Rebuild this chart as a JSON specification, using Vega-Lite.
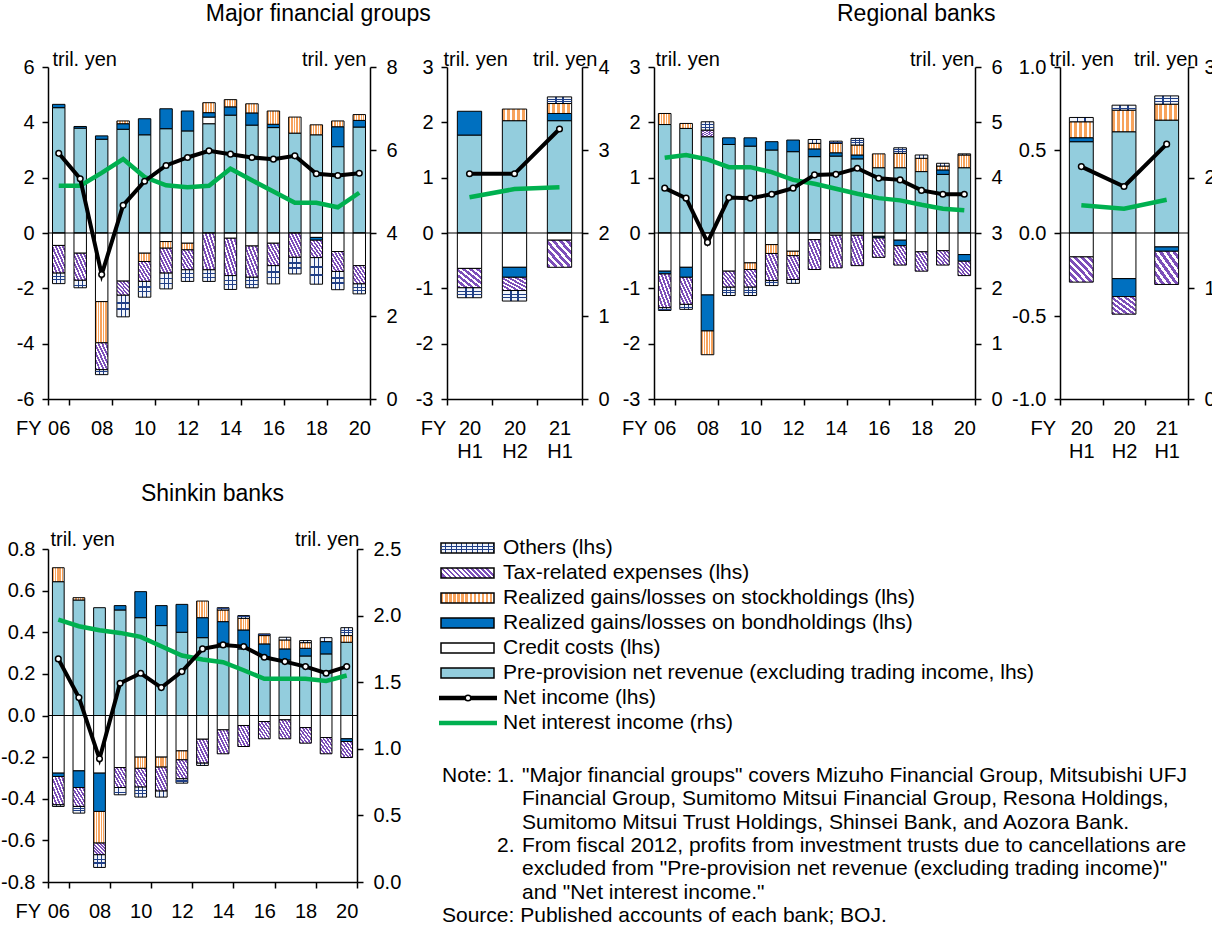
{
"padding": {"left": 0, "top": 3, "right": 5, "bottom": 5},
"params": [
 {"name": "gS", "value": {"gradient":"linear","x1":0,"y1":0,"x2":1,"y2":0,"stops":[
  {"offset":0,"color":"#f7a35c"},{"offset":0.12,"color":"#f7a35c"},{"offset":0.12,"color":"#fff"},{"offset":0.2,"color":"#fff"},
  {"offset":0.2,"color":"#f7a35c"},{"offset":0.32,"color":"#f7a35c"},{"offset":0.32,"color":"#fff"},{"offset":0.4,"color":"#fff"},
  {"offset":0.4,"color":"#f7a35c"},{"offset":0.52,"color":"#f7a35c"},{"offset":0.52,"color":"#fff"},{"offset":0.6,"color":"#fff"},
  {"offset":0.6,"color":"#f7a35c"},{"offset":0.72,"color":"#f7a35c"},{"offset":0.72,"color":"#fff"},{"offset":0.8,"color":"#fff"},
  {"offset":0.8,"color":"#f7a35c"},{"offset":0.92,"color":"#f7a35c"},{"offset":0.92,"color":"#fff"},{"offset":1,"color":"#fff"}]}},
 {"name": "gT", "value": {"gradient":"linear","x1":0,"y1":1,"x2":1,"y2":0,"stops":[
  {"offset":0,"color":"#7d4fb9"},{"offset":0.079,"color":"#7d4fb9"},{"offset":0.079,"color":"#fff"},{"offset":0.143,"color":"#fff"},
  {"offset":0.143,"color":"#7d4fb9"},{"offset":0.222,"color":"#7d4fb9"},{"offset":0.222,"color":"#fff"},{"offset":0.286,"color":"#fff"},
  {"offset":0.286,"color":"#7d4fb9"},{"offset":0.365,"color":"#7d4fb9"},{"offset":0.365,"color":"#fff"},{"offset":0.429,"color":"#fff"},
  {"offset":0.429,"color":"#7d4fb9"},{"offset":0.508,"color":"#7d4fb9"},{"offset":0.508,"color":"#fff"},{"offset":0.571,"color":"#fff"},
  {"offset":0.571,"color":"#7d4fb9"},{"offset":0.65,"color":"#7d4fb9"},{"offset":0.65,"color":"#fff"},{"offset":0.714,"color":"#fff"},
  {"offset":0.714,"color":"#7d4fb9"},{"offset":0.793,"color":"#7d4fb9"},{"offset":0.793,"color":"#fff"},{"offset":0.857,"color":"#fff"},
  {"offset":0.857,"color":"#7d4fb9"},{"offset":0.936,"color":"#7d4fb9"},{"offset":0.936,"color":"#fff"},{"offset":1,"color":"#fff"}]}},
 {"name": "gO", "value": {"gradient":"linear","x1":0,"y1":0,"x2":1,"y2":0,"stops":[
  {"offset":0,"color":"#f2f5fb"},{"offset":0.3,"color":"#f2f5fb"},{"offset":0.3,"color":"#203f86"},{"offset":0.38,"color":"#203f86"},
  {"offset":0.38,"color":"#f2f5fb"},{"offset":0.62,"color":"#f2f5fb"},{"offset":0.62,"color":"#203f86"},{"offset":0.7,"color":"#203f86"},
  {"offset":0.7,"color":"#f2f5fb"},{"offset":1,"color":"#f2f5fb"}]}},
 {"name": "gH", "value": {"gradient":"linear","x1":0,"y1":0,"x2":0,"y2":1,"stops":[
  {"offset":0,"color":"rgba(32,63,134,0)"},{"offset":0.3,"color":"rgba(32,63,134,0)"},{"offset":0.3,"color":"#203f86"},{"offset":0.4,"color":"#203f86"},
  {"offset":0.4,"color":"rgba(32,63,134,0)"},{"offset":0.6,"color":"rgba(32,63,134,0)"},{"offset":0.6,"color":"#203f86"},{"offset":0.7,"color":"#203f86"},
  {"offset":0.7,"color":"rgba(32,63,134,0)"},{"offset":1,"color":"rgba(32,63,134,0)"}]}},
 {"name": "gSL", "value": {"gradient":"linear","x1":0,"y1":0,"x2":1,"y2":0,"stops":[
  {"offset":0,"color":"#f7a35c"},{"offset":0.046,"color":"#f7a35c"},{"offset":0.046,"color":"#fff"},{"offset":0.077,"color":"#fff"},
  {"offset":0.077,"color":"#f7a35c"},{"offset":0.123,"color":"#f7a35c"},{"offset":0.123,"color":"#fff"},{"offset":0.154,"color":"#fff"},
  {"offset":0.154,"color":"#f7a35c"},{"offset":0.2,"color":"#f7a35c"},{"offset":0.2,"color":"#fff"},{"offset":0.231,"color":"#fff"},
  {"offset":0.231,"color":"#f7a35c"},{"offset":0.277,"color":"#f7a35c"},{"offset":0.277,"color":"#fff"},{"offset":0.308,"color":"#fff"},
  {"offset":0.308,"color":"#f7a35c"},{"offset":0.354,"color":"#f7a35c"},{"offset":0.354,"color":"#fff"},{"offset":0.385,"color":"#fff"},
  {"offset":0.385,"color":"#f7a35c"},{"offset":0.431,"color":"#f7a35c"},{"offset":0.431,"color":"#fff"},{"offset":0.462,"color":"#fff"},
  {"offset":0.462,"color":"#f7a35c"},{"offset":0.508,"color":"#f7a35c"},{"offset":0.508,"color":"#fff"},{"offset":0.538,"color":"#fff"},
  {"offset":0.538,"color":"#f7a35c"},{"offset":0.585,"color":"#f7a35c"},{"offset":0.585,"color":"#fff"},{"offset":0.615,"color":"#fff"},
  {"offset":0.615,"color":"#f7a35c"},{"offset":0.662,"color":"#f7a35c"},{"offset":0.662,"color":"#fff"},{"offset":0.692,"color":"#fff"},
  {"offset":0.692,"color":"#f7a35c"},{"offset":0.738,"color":"#f7a35c"},{"offset":0.738,"color":"#fff"},{"offset":0.769,"color":"#fff"},
  {"offset":0.769,"color":"#f7a35c"},{"offset":0.815,"color":"#f7a35c"},{"offset":0.815,"color":"#fff"},{"offset":0.846,"color":"#fff"},
  {"offset":0.846,"color":"#f7a35c"},{"offset":0.892,"color":"#f7a35c"},{"offset":0.892,"color":"#fff"},{"offset":0.923,"color":"#fff"},
  {"offset":0.923,"color":"#f7a35c"},{"offset":0.969,"color":"#f7a35c"},{"offset":0.969,"color":"#fff"},{"offset":1,"color":"#fff"}]}},
 {"name": "gTL", "value": {"gradient":"linear","x1":0,"y1":0.594,"x2":1,"y2":0.406,"stops":[
  {"offset":0,"color":"#7d4fb9"},{"offset":0.05,"color":"#7d4fb9"},{"offset":0.05,"color":"#fff"},{"offset":0.091,"color":"#fff"},
  {"offset":0.091,"color":"#7d4fb9"},{"offset":0.141,"color":"#7d4fb9"},{"offset":0.141,"color":"#fff"},{"offset":0.182,"color":"#fff"},
  {"offset":0.182,"color":"#7d4fb9"},{"offset":0.232,"color":"#7d4fb9"},{"offset":0.232,"color":"#fff"},{"offset":0.273,"color":"#fff"},
  {"offset":0.273,"color":"#7d4fb9"},{"offset":0.323,"color":"#7d4fb9"},{"offset":0.323,"color":"#fff"},{"offset":0.364,"color":"#fff"},
  {"offset":0.364,"color":"#7d4fb9"},{"offset":0.414,"color":"#7d4fb9"},{"offset":0.414,"color":"#fff"},{"offset":0.455,"color":"#fff"},
  {"offset":0.455,"color":"#7d4fb9"},{"offset":0.505,"color":"#7d4fb9"},{"offset":0.505,"color":"#fff"},{"offset":0.545,"color":"#fff"},
  {"offset":0.545,"color":"#7d4fb9"},{"offset":0.595,"color":"#7d4fb9"},{"offset":0.595,"color":"#fff"},{"offset":0.636,"color":"#fff"},
  {"offset":0.636,"color":"#7d4fb9"},{"offset":0.686,"color":"#7d4fb9"},{"offset":0.686,"color":"#fff"},{"offset":0.727,"color":"#fff"},
  {"offset":0.727,"color":"#7d4fb9"},{"offset":0.777,"color":"#7d4fb9"},{"offset":0.777,"color":"#fff"},{"offset":0.818,"color":"#fff"},
  {"offset":0.818,"color":"#7d4fb9"},{"offset":0.868,"color":"#7d4fb9"},{"offset":0.868,"color":"#fff"},{"offset":0.909,"color":"#fff"},
  {"offset":0.909,"color":"#7d4fb9"},{"offset":0.959,"color":"#7d4fb9"},{"offset":0.959,"color":"#fff"},{"offset":1,"color":"#fff"}]}},
 {"name": "gOL", "value": {"gradient":"linear","x1":0,"y1":0,"x2":1,"y2":0,"stops":[
  {"offset":0,"color":"#f2f5fb"},{"offset":0.08,"color":"#f2f5fb"},{"offset":0.08,"color":"#203f86"},{"offset":0.1,"color":"#203f86"},
  {"offset":0.1,"color":"#f2f5fb"},{"offset":0.18,"color":"#f2f5fb"},{"offset":0.18,"color":"#203f86"},{"offset":0.2,"color":"#203f86"},
  {"offset":0.2,"color":"#f2f5fb"},{"offset":0.28,"color":"#f2f5fb"},{"offset":0.28,"color":"#203f86"},{"offset":0.3,"color":"#203f86"},
  {"offset":0.3,"color":"#f2f5fb"},{"offset":0.38,"color":"#f2f5fb"},{"offset":0.38,"color":"#203f86"},{"offset":0.4,"color":"#203f86"},
  {"offset":0.4,"color":"#f2f5fb"},{"offset":0.48,"color":"#f2f5fb"},{"offset":0.48,"color":"#203f86"},{"offset":0.5,"color":"#203f86"},
  {"offset":0.5,"color":"#f2f5fb"},{"offset":0.58,"color":"#f2f5fb"},{"offset":0.58,"color":"#203f86"},{"offset":0.6,"color":"#203f86"},
  {"offset":0.6,"color":"#f2f5fb"},{"offset":0.68,"color":"#f2f5fb"},{"offset":0.68,"color":"#203f86"},{"offset":0.7,"color":"#203f86"},
  {"offset":0.7,"color":"#f2f5fb"},{"offset":0.78,"color":"#f2f5fb"},{"offset":0.78,"color":"#203f86"},{"offset":0.8,"color":"#203f86"},
  {"offset":0.8,"color":"#f2f5fb"},{"offset":0.88,"color":"#f2f5fb"},{"offset":0.88,"color":"#203f86"},{"offset":0.9,"color":"#203f86"},
  {"offset":0.9,"color":"#f2f5fb"},{"offset":0.98,"color":"#f2f5fb"},{"offset":0.98,"color":"#203f86"},{"offset":1,"color":"#203f86"}]}}
],
"datasets": {
 "d": [
  {"p":"MF","c":"06","ppnr":4.53,"credit":-0.45,"bond":0.12,"tax":-1.0,"others":-0.38,"ni":2.88,"nii":5.14},
  {"p":"MF","c":"07","ppnr":3.79,"credit":-0.73,"bond":0.06,"tax":-0.98,"others":-0.27,"ni":1.96,"nii":5.14},
  {"p":"MF","c":"08","ppnr":3.39,"credit":-2.48,"bond":0.12,"stock":-1.49,"tax":-0.97,"others":-0.18,"ni":-1.5,"nii":5.45},
  {"p":"MF","c":"09","ppnr":3.75,"credit":-1.74,"bond":0.2,"stock":0.1,"tax":-0.51,"others":-0.78,"ni":1.0,"nii":5.78},
  {"p":"MF","c":"10","ppnr":3.55,"credit":-0.73,"bond":0.58,"stock":-0.3,"tax":-0.72,"others":-0.57,"ni":1.87,"nii":5.35},
  {"p":"MF","c":"11","ppnr":3.77,"credit":-0.31,"bond":0.72,"stock":-0.24,"tax":-0.9,"others":-0.57,"ni":2.44,"nii":5.15},
  {"p":"MF","c":"12","ppnr":3.69,"credit":-0.37,"bond":0.72,"stock":-0.24,"tax":-0.72,"others":-0.42,"ni":2.73,"nii":5.1},
  {"p":"MF","c":"13","ppnr":3.95,"credit":0.24,"bond":0.16,"stock":0.36,"tax":-1.33,"others":-0.42,"ni":2.97,"nii":5.14},
  {"p":"MF","c":"14","ppnr":4.26,"credit":-0.19,"bond":0.3,"stock":0.26,"tax":-1.35,"others":-0.5,"ni":2.85,"nii":5.55},
  {"p":"MF","c":"15","ppnr":3.9,"credit":-0.47,"bond":0.44,"stock":0.33,"tax":-1.13,"others":-0.38,"ni":2.73,"nii":5.27},
  {"p":"MF","c":"16","ppnr":3.81,"credit":-0.37,"bond":0.12,"stock":0.48,"tax":-0.81,"others":-0.66,"ni":2.67,"nii":5.0},
  {"p":"MF","c":"17","ppnr":3.61,"stock":0.58,"tax":-0.88,"others":-0.6,"ni":2.79,"nii":4.73},
  {"p":"MF","c":"18","ppnr":3.55,"credit":-0.16,"bond":-0.1,"stock":0.36,"tax":-0.63,"others":-0.96,"ni":2.14,"nii":4.73},
  {"p":"MF","c":"19","ppnr":3.12,"credit":-0.67,"bond":0.72,"stock":0.21,"tax":-0.72,"others":-0.66,"ni":2.08,"nii":4.62},
  {"p":"MF","c":"20","ppnr":3.83,"credit":-1.18,"bond":0.24,"stock":0.21,"tax":-0.66,"others":-0.36,"ni":2.16,"nii":4.97},
  {"p":"MH","c":"20H1","ppnr":1.77,"credit":-0.64,"bond":0.43,"tax":-0.35,"others":-0.18,"ni":1.07,"nii":2.43},
  {"p":"MH","c":"20H2","ppnr":2.03,"credit":-0.62,"bond":-0.18,"stock":0.21,"tax":-0.24,"others":-0.19,"ni":1.07,"nii":2.53},
  {"p":"MH","c":"21H1","ppnr":2.03,"credit":-0.13,"bond":0.13,"stock":0.18,"tax":-0.49,"others":0.12,"ni":1.88,"nii":2.55},
  {"p":"RF","c":"06","ppnr":1.96,"credit":-0.69,"bond":-0.05,"stock":0.2,"tax":-0.61,"others":-0.05,"ni":0.81,"nii":4.36},
  {"p":"RF","c":"07","ppnr":1.89,"credit":-0.62,"bond":-0.18,"stock":0.09,"tax":-0.49,"others":-0.09,"ni":0.63,"nii":4.41},
  {"p":"RF","c":"08","ppnr":1.74,"credit":-1.12,"bond":-0.65,"stock":-0.43,"tax":0.12,"others":0.15,"ni":-0.17,"nii":4.33},
  {"p":"RF","c":"09","ppnr":1.6,"credit":-0.69,"bond":0.12,"tax":-0.29,"others":-0.15,"ni":0.64,"nii":4.19},
  {"p":"RF","c":"10","ppnr":1.57,"credit":-0.54,"bond":0.15,"stock":-0.12,"tax":-0.32,"others":-0.15,"ni":0.63,"nii":4.19},
  {"p":"RF","c":"11","ppnr":1.5,"credit":-0.21,"bond":0.15,"stock":-0.16,"tax":-0.49,"others":-0.09,"ni":0.7,"nii":4.1},
  {"p":"RF","c":"12","ppnr":1.47,"credit":-0.33,"bond":0.21,"stock":-0.08,"tax":-0.43,"others":-0.07,"ni":0.81,"nii":3.96},
  {"p":"RF","c":"13","ppnr":1.38,"credit":-0.12,"bond":0.14,"stock":0.1,"tax":-0.54,"others":0.07,"ni":1.05,"nii":3.89},
  {"p":"RF","c":"14","ppnr":1.39,"credit":-0.04,"bond":0.06,"stock":0.17,"tax":-0.59,"others":0.04,"ni":1.06,"nii":3.8},
  {"p":"RF","c":"15","ppnr":1.34,"credit":-0.04,"bond":0.07,"stock":0.18,"tax":-0.55,"others":0.12,"ni":1.17,"nii":3.71},
  {"p":"RF","c":"16","ppnr":1.18,"credit":-0.06,"bond":-0.03,"stock":0.25,"tax":-0.35,"ni":0.99,"nii":3.63},
  {"p":"RF","c":"17","ppnr":1.18,"credit":-0.13,"bond":-0.1,"stock":0.26,"tax":-0.35,"others":0.1,"ni":0.96,"nii":3.59},
  {"p":"RF","c":"18","ppnr":1.11,"credit":-0.34,"stock":0.24,"tax":-0.35,"others":0.06,"ni":0.77,"nii":3.51},
  {"p":"RF","c":"19","ppnr":1.06,"credit":-0.32,"bond":0.08,"stock":0.07,"tax":-0.26,"others":0.05,"ni":0.7,"nii":3.44},
  {"p":"RF","c":"20","ppnr":1.18,"credit":-0.39,"bond":-0.12,"stock":0.23,"tax":-0.26,"others":0.02,"ni":0.7,"nii":3.41},
  {"p":"RH","c":"20H1","ppnr":0.55,"credit":-0.144,"bond":0.024,"stock":0.096,"tax":-0.152,"others":0.026,"ni":0.4,"nii":1.75},
  {"p":"RH","c":"20H2","ppnr":0.61,"credit":-0.275,"bond":-0.108,"stock":0.13,"tax":-0.106,"others":0.03,"ni":0.28,"nii":1.72},
  {"p":"RH","c":"21H1","ppnr":0.68,"credit":-0.084,"bond":-0.026,"stock":0.096,"tax":-0.2,"others":0.05,"ni":0.535,"nii":1.8},
  {"p":"SK","c":"06","ppnr":0.643,"credit":-0.277,"bond":-0.016,"stock":0.067,"tax":-0.136,"others":-0.008,"ni":0.272,"nii":1.97},
  {"p":"SK","c":"07","ppnr":0.555,"credit":-0.266,"bond":-0.08,"stock":0.011,"tax":-0.091,"others":-0.032,"ni":0.086,"nii":1.92},
  {"p":"SK","c":"08","ppnr":0.518,"credit":-0.277,"bond":-0.184,"stock":-0.152,"tax":-0.056,"others":-0.061,"ni":-0.208,"nii":1.89},
  {"p":"SK","c":"09","ppnr":0.507,"credit":-0.25,"bond":0.021,"tax":-0.096,"others":-0.035,"ni":0.155,"nii":1.87},
  {"p":"SK","c":"10","ppnr":0.47,"credit":-0.2,"bond":0.125,"stock":-0.054,"tax":-0.09,"others":-0.048,"ni":0.203,"nii":1.84},
  {"p":"SK","c":"11","ppnr":0.432,"credit":-0.2,"bond":0.096,"stock":-0.048,"tax":-0.115,"others":-0.029,"ni":0.134,"nii":1.77},
  {"p":"SK","c":"12","ppnr":0.4,"credit":-0.17,"bond":0.134,"stock":-0.043,"tax":-0.091,"others":-0.021,"ni":0.211,"nii":1.7},
  {"p":"SK","c":"13","ppnr":0.374,"credit":-0.114,"bond":0.096,"stock":0.08,"tax":-0.115,"others":-0.011,"ni":0.32,"nii":1.67},
  {"p":"SK","c":"14","ppnr":0.347,"credit":-0.069,"bond":0.104,"stock":0.056,"tax":-0.115,"others":0.011,"ni":0.339,"nii":1.65},
  {"p":"SK","c":"15","ppnr":0.32,"credit":-0.048,"bond":0.091,"stock":0.056,"tax":-0.101,"others":0.013,"ni":0.331,"nii":1.59},
  {"p":"SK","c":"16","ppnr":0.283,"credit":-0.029,"bond":0.061,"stock":0.04,"tax":-0.083,"others":0.008,"ni":0.28,"nii":1.525},
  {"p":"SK","c":"17","ppnr":0.267,"credit":-0.021,"bond":0.053,"stock":0.043,"tax":-0.091,"others":0.013,"ni":0.259,"nii":1.525},
  {"p":"SK","c":"18","ppnr":0.286,"credit":-0.058,"bond":0.037,"stock":0.027,"tax":-0.075,"others":0.01,"ni":0.235,"nii":1.525},
  {"p":"SK","c":"19","ppnr":0.296,"credit":-0.106,"bond":0.059,"tax":-0.078,"others":0.019,"ni":0.203,"nii":1.51},
  {"p":"SK","c":"20","ppnr":0.352,"credit":-0.112,"bond":-0.013,"stock":0.032,"tax":-0.077,"others":0.038,"ni":0.235,"nii":1.55}
 ],
 "leg": [
  {"t":"Others (lhs)","k":"others"},
  {"t":"Tax-related expenses (lhs)","k":"tax"},
  {"t":"Realized gains/losses on stockholdings (lhs)","k":"stock"},
  {"t":"Realized gains/losses on bondholdings (lhs)","k":"bond"},
  {"t":"Credit costs (lhs)","k":"credit"},
  {"t":"Pre-provision net revenue (excluding trading income, lhs)","k":"ppnr"},
  {"t":"Net income (lhs)","k":"ni"},
  {"t":"Net interest income (rhs)","k":"nii"}
 ],
 "notes": [
  {"ln":1,"col":"a","s":"Note:"},
  {"ln":1,"col":"b","s":"1."},
  {"ln":1,"col":"c","s":"\"Major financial groups\" covers Mizuho Financial Group, Mitsubishi UFJ"},
  {"ln":2,"col":"c","s":"Financial Group, Sumitomo Mitsui Financial Group, Resona Holdings,"},
  {"ln":3,"col":"c","s":"Sumitomo Mitsui Trust Holdings, Shinsei Bank, and Aozora Bank."},
  {"ln":4,"col":"b","s":"2."},
  {"ln":4,"col":"c","s":"From fiscal 2012, profits from investment trusts due to cancellations are"},
  {"ln":5,"col":"c","s":"excluded from \"Pre-provision net revenue (excluding trading income)\""},
  {"ln":6,"col":"c","s":"and \"Net interest income.\""},
  {"ln":7,"col":"a","s":"Source: Published accounts of each bank; BOJ."}
 ]
},
"vconcat": [
 {"hconcat": [
  {"title": {"text": "Major financial groups", "frame": "bounds", "anchor": "middle", "dx": 6},
   "hconcat": [
   {
    "width": 322, "height": 332,
    "layer": [
     {"data": {"name": "d"},
      "transform": [{"filter": "datum.p == 'MF'"}, {"fold": ["ppnr","credit","bond","stock","tax","others"], "as": ["k","v"]}, {"filter": "isValid(datum.v) && datum.v != 0"}, {"stack": "v", "groupby": ["c"], "as": ["v0","v1"]}],
      "mark": {"type": "bar", "width": {"band": 0.58}, "stroke": "#000", "strokeWidth": 1, "fill": {"expr": "datum.k == 'stock' ? gS : datum.k == 'tax' ? gT : datum.k == 'others' ? gO : datum.k == 'bond' ? '#0070c0' : datum.k == 'credit' ? '#ffffff' : '#93cddd'"}},
      "encoding": {
       "x": {"field": "c", "type": "ordinal", "scale": {"paddingInner": 0, "paddingOuter": 0}, "axis": {"orient": "bottom", "title": null, "values": ["06","08","10","12","14","16","18","20"], "tickBand": "extent", "labelAngle": 0, "labelPadding": 13}},
       "y": {"field": "v0", "type": "quantitative", "scale": {"domain": [-6, 6], "nice": false, "zero": false}, "axis": {"orient": "left", "values": [-6,-4,-2,0,2,4,6], "labelExpr": "replace(datum.label, '\u2212', '-')", "title": "tril. yen", "titleAngle": 0, "titleAlign": "left", "titleBaseline": "alphabetic", "titleX": 4, "titleY": -2, "labelPadding": 8}},
       "y2": {"field": "v1"}
      }},
     {"data": {"name": "d"},
      "transform": [{"filter": "datum.p == 'MF'"}, {"fold": ["ppnr","credit","bond","stock","tax","others"], "as": ["k","v"]}, {"filter": "isValid(datum.v) && datum.v != 0"}, {"stack": "v", "groupby": ["c"], "as": ["v0","v1"]}, {"filter": "datum.k == 'others'"}],
      "mark": {"type": "bar", "width": {"band": 0.58}, "strokeWidth": 0, "fill": {"expr": "gH"}},
      "encoding": {
       "x": {"field": "c", "type": "ordinal", "axis": null},
       "y": {"field": "v0", "type": "quantitative", "scale": {"domain": [-6, 6], "nice": false, "zero": false}, "axis": null},
       "y2": {"field": "v1"}
      }},
     {"data": {"values": [{}]}, "mark": {"type": "rule", "stroke": "#000", "strokeWidth": 1.2},
      "encoding": {"y": {"datum": 0, "type": "quantitative", "scale": {"domain": [-6, 6], "nice": false, "zero": false}, "axis": null}}},
     {"data": {"name": "d"}, "transform": [{"filter": "datum.p == 'MF'"}],
      "mark": {"type": "line", "stroke": "#00b050", "strokeWidth": 4.5},
      "encoding": {"x": {"field": "c", "type": "ordinal", "axis": null}, "y": {"field": "nii", "type": "quantitative", "scale": {"domain": [0, 8], "nice": false, "zero": false}, "axis": {"orient": "right", "values": [0,2,4,6,8], "title": "tril. yen", "titleAngle": 0, "titleAlign": "right", "titleBaseline": "alphabetic", "titleX": -4, "titleY": -2, "labelPadding": 10}}}},
     {"data": {"name": "d"}, "transform": [{"filter": "datum.p == 'MF'"}],
      "mark": {"type": "line", "stroke": "#000", "strokeWidth": 4, "point": {"filled": true, "fill": "#fff", "stroke": "#000", "strokeWidth": 1.5, "size": 32}},
      "encoding": {"x": {"field": "c", "type": "ordinal", "axis": {"orient": "bottom", "title": null, "values": ["06"], "labelExpr": "'FY'", "labelOffset": -30, "ticks": false, "tickSize": 0, "domain": false, "labelPadding": 19, "labelAngle": 0}}, "y": {"field": "ni", "type": "quantitative", "scale": {"domain": [-6, 6], "nice": false, "zero": false}, "axis": null}}}
    ],
    "resolve": {"scale": {"y": "independent"}, "axis": {"x": "independent"}}
   },
   {
    "width": 135, "height": 332,
    "layer": [
     {"data": {"name": "d"},
      "transform": [{"filter": "datum.p == 'MH'"}, {"fold": ["ppnr","credit","bond","stock","tax","others"], "as": ["k","v"]}, {"filter": "isValid(datum.v) && datum.v != 0"}, {"stack": "v", "groupby": ["c"], "as": ["v0","v1"]}],
      "mark": {"type": "bar", "width": {"band": 0.54}, "stroke": "#000", "strokeWidth": 1, "fill": {"expr": "datum.k == 'stock' ? gS : datum.k == 'tax' ? gT : datum.k == 'others' ? gO : datum.k == 'bond' ? '#0070c0' : datum.k == 'credit' ? '#ffffff' : '#93cddd'"}},
      "encoding": {
       "x": {"field": "c", "type": "ordinal", "scale": {"paddingInner": 0, "paddingOuter": 0}, "axis": {"orient": "bottom", "title": null, "tickBand": "extent", "labelAngle": 0, "labelPadding": 13, "labelLineHeight": 23, "labelExpr": "isValid(datum.value) ? [substring(datum.value, 0, 2), substring(datum.value, 2, 4)] : ''"}},
       "y": {"field": "v0", "type": "quantitative", "scale": {"domain": [-3, 3], "nice": false, "zero": false}, "axis": {"orient": "left", "values": [-3,-2,-1,0,1,2,3], "labelExpr": "replace(datum.label, '\u2212', '-')", "title": "tril. yen", "titleAngle": 0, "titleAlign": "left", "titleBaseline": "alphabetic", "titleX": -4, "titleY": -2, "labelPadding": 8}},
       "y2": {"field": "v1"}
      }},
     {"data": {"name": "d"},
      "transform": [{"filter": "datum.p == 'MH'"}, {"fold": ["ppnr","credit","bond","stock","tax","others"], "as": ["k","v"]}, {"filter": "isValid(datum.v) && datum.v != 0"}, {"stack": "v", "groupby": ["c"], "as": ["v0","v1"]}, {"filter": "datum.k == 'others'"}],
      "mark": {"type": "bar", "width": {"band": 0.54}, "strokeWidth": 0, "fill": {"expr": "gH"}},
      "encoding": {
       "x": {"field": "c", "type": "ordinal", "axis": null},
       "y": {"field": "v0", "type": "quantitative", "scale": {"domain": [-3, 3], "nice": false, "zero": false}, "axis": null},
       "y2": {"field": "v1"}
      }},
     {"data": {"values": [{}]}, "mark": {"type": "rule", "stroke": "#000", "strokeWidth": 1.2},
      "encoding": {"y": {"datum": 0, "type": "quantitative", "scale": {"domain": [-3, 3], "nice": false, "zero": false}, "axis": null}}},
     {"data": {"name": "d"}, "transform": [{"filter": "datum.p == 'MH'"}],
      "mark": {"type": "line", "stroke": "#00b050", "strokeWidth": 4.5},
      "encoding": {"x": {"field": "c", "type": "ordinal", "axis": null}, "y": {"field": "nii", "type": "quantitative", "scale": {"domain": [0, 4], "nice": false, "zero": false}, "axis": {"orient": "right", "values": [0,1,2,3,4], "title": "tril. yen", "titleAngle": 0, "titleAlign": "right", "titleBaseline": "alphabetic", "titleX": 15, "titleY": -2, "labelPadding": 10}}}},
     {"data": {"name": "d"}, "transform": [{"filter": "datum.p == 'MH'"}],
      "mark": {"type": "line", "stroke": "#000", "strokeWidth": 4, "point": {"filled": true, "fill": "#fff", "stroke": "#000", "strokeWidth": 1.5, "size": 32}},
      "encoding": {"x": {"field": "c", "type": "ordinal", "axis": {"orient": "bottom", "title": null, "values": ["20H1"], "labelExpr": "'FY'", "labelOffset": -36, "ticks": false, "tickSize": 0, "domain": false, "labelPadding": 19, "labelAngle": 0}}, "y": {"field": "ni", "type": "quantitative", "scale": {"domain": [-3, 3], "nice": false, "zero": false}, "axis": null}}}
    ],
    "resolve": {"scale": {"y": "independent"}, "axis": {"x": "independent"}}
   }
   ],
   "spacing": 17
  },
  {"title": {"text": "Regional banks", "frame": "bounds", "anchor": "middle", "dx": -2},
   "hconcat": [
   {
    "width": 321, "height": 332,
    "layer": [
     {"data": {"name": "d"},
      "transform": [{"filter": "datum.p == 'RF'"}, {"fold": ["ppnr","credit","bond","stock","tax","others"], "as": ["k","v"]}, {"filter": "isValid(datum.v) && datum.v != 0"}, {"stack": "v", "groupby": ["c"], "as": ["v0","v1"]}],
      "mark": {"type": "bar", "width": {"band": 0.59}, "stroke": "#000", "strokeWidth": 1, "fill": {"expr": "datum.k == 'stock' ? gS : datum.k == 'tax' ? gT : datum.k == 'others' ? gO : datum.k == 'bond' ? '#0070c0' : datum.k == 'credit' ? '#ffffff' : '#93cddd'"}},
      "encoding": {
       "x": {"field": "c", "type": "ordinal", "scale": {"paddingInner": 0, "paddingOuter": 0}, "axis": {"orient": "bottom", "title": null, "values": ["06","08","10","12","14","16","18","20"], "tickBand": "extent", "labelAngle": 0, "labelPadding": 13}},
       "y": {"field": "v0", "type": "quantitative", "scale": {"domain": [-3, 3], "nice": false, "zero": false}, "axis": {"orient": "left", "values": [-3,-2,-1,0,1,2,3], "labelExpr": "replace(datum.label, '\u2212', '-')", "title": "tril. yen", "titleAngle": 0, "titleAlign": "left", "titleBaseline": "alphabetic", "titleX": 1, "titleY": -2, "labelPadding": 8}},
       "y2": {"field": "v1"}
      }},
     {"data": {"name": "d"},
      "transform": [{"filter": "datum.p == 'RF'"}, {"fold": ["ppnr","credit","bond","stock","tax","others"], "as": ["k","v"]}, {"filter": "isValid(datum.v) && datum.v != 0"}, {"stack": "v", "groupby": ["c"], "as": ["v0","v1"]}, {"filter": "datum.k == 'others'"}],
      "mark": {"type": "bar", "width": {"band": 0.59}, "strokeWidth": 0, "fill": {"expr": "gH"}},
      "encoding": {
       "x": {"field": "c", "type": "ordinal", "axis": null},
       "y": {"field": "v0", "type": "quantitative", "scale": {"domain": [-3, 3], "nice": false, "zero": false}, "axis": null},
       "y2": {"field": "v1"}
      }},
     {"data": {"values": [{}]}, "mark": {"type": "rule", "stroke": "#000", "strokeWidth": 1.2},
      "encoding": {"y": {"datum": 0, "type": "quantitative", "scale": {"domain": [-3, 3], "nice": false, "zero": false}, "axis": null}}},
     {"data": {"name": "d"}, "transform": [{"filter": "datum.p == 'RF'"}],
      "mark": {"type": "line", "stroke": "#00b050", "strokeWidth": 4.5},
      "encoding": {"x": {"field": "c", "type": "ordinal", "axis": null}, "y": {"field": "nii", "type": "quantitative", "scale": {"domain": [0, 6], "nice": false, "zero": false}, "axis": {"orient": "right", "values": [0,1,2,3,4,5,6], "title": "tril. yen", "titleAngle": 0, "titleAlign": "right", "titleBaseline": "alphabetic", "titleX": -1, "titleY": -2, "labelPadding": 10}}}},
     {"data": {"name": "d"}, "transform": [{"filter": "datum.p == 'RF'"}],
      "mark": {"type": "line", "stroke": "#000", "strokeWidth": 4, "point": {"filled": true, "fill": "#fff", "stroke": "#000", "strokeWidth": 1.5, "size": 32}},
      "encoding": {"x": {"field": "c", "type": "ordinal", "axis": {"orient": "bottom", "title": null, "values": ["06"], "labelExpr": "'FY'", "labelOffset": -30, "ticks": false, "tickSize": 0, "domain": false, "labelPadding": 19, "labelAngle": 0}}, "y": {"field": "ni", "type": "quantitative", "scale": {"domain": [-3, 3], "nice": false, "zero": false}, "axis": null}}}
    ],
    "resolve": {"scale": {"y": "independent"}, "axis": {"x": "independent"}}
   },
   {
    "width": 128, "height": 332,
    "layer": [
     {"data": {"name": "d"},
      "transform": [{"filter": "datum.p == 'RH'"}, {"fold": ["ppnr","credit","bond","stock","tax","others"], "as": ["k","v"]}, {"filter": "isValid(datum.v) && datum.v != 0"}, {"stack": "v", "groupby": ["c"], "as": ["v0","v1"]}],
      "mark": {"type": "bar", "width": {"band": 0.56}, "stroke": "#000", "strokeWidth": 1, "fill": {"expr": "datum.k == 'stock' ? gS : datum.k == 'tax' ? gT : datum.k == 'others' ? gO : datum.k == 'bond' ? '#0070c0' : datum.k == 'credit' ? '#ffffff' : '#93cddd'"}},
      "encoding": {
       "x": {"field": "c", "type": "ordinal", "scale": {"paddingInner": 0, "paddingOuter": 0}, "axis": {"orient": "bottom", "title": null, "tickBand": "extent", "labelAngle": 0, "labelPadding": 13, "labelLineHeight": 23, "labelExpr": "isValid(datum.value) ? [substring(datum.value, 0, 2), substring(datum.value, 2, 4)] : ''"}},
       "y": {"field": "v0", "type": "quantitative", "scale": {"domain": [-1, 1], "nice": false, "zero": false}, "axis": {"orient": "left", "values": [-1,-0.5,0,0.5,1], "format": ".1f", "labelExpr": "replace(datum.label, '\u2212', '-')", "title": "tril. yen", "titleAngle": 0, "titleAlign": "left", "titleBaseline": "alphabetic", "titleX": -11, "titleY": -2, "labelPadding": 8}},
       "y2": {"field": "v1"}
      }},
     {"data": {"name": "d"},
      "transform": [{"filter": "datum.p == 'RH'"}, {"fold": ["ppnr","credit","bond","stock","tax","others"], "as": ["k","v"]}, {"filter": "isValid(datum.v) && datum.v != 0"}, {"stack": "v", "groupby": ["c"], "as": ["v0","v1"]}, {"filter": "datum.k == 'others'"}],
      "mark": {"type": "bar", "width": {"band": 0.56}, "strokeWidth": 0, "fill": {"expr": "gH"}},
      "encoding": {
       "x": {"field": "c", "type": "ordinal", "axis": null},
       "y": {"field": "v0", "type": "quantitative", "scale": {"domain": [-1, 1], "nice": false, "zero": false}, "axis": null},
       "y2": {"field": "v1"}
      }},
     {"data": {"values": [{}]}, "mark": {"type": "rule", "stroke": "#000", "strokeWidth": 1.2},
      "encoding": {"y": {"datum": 0, "type": "quantitative", "scale": {"domain": [-1, 1], "nice": false, "zero": false}, "axis": null}}},
     {"data": {"name": "d"}, "transform": [{"filter": "datum.p == 'RH'"}],
      "mark": {"type": "line", "stroke": "#00b050", "strokeWidth": 4.5},
      "encoding": {"x": {"field": "c", "type": "ordinal", "axis": null}, "y": {"field": "nii", "type": "quantitative", "scale": {"domain": [0, 3], "nice": false, "zero": false}, "axis": {"orient": "right", "values": [0,1,2,3], "title": "tril. yen", "titleAngle": 0, "titleAlign": "right", "titleBaseline": "alphabetic", "titleX": 10, "titleY": -2, "labelPadding": 10}}}},
     {"data": {"name": "d"}, "transform": [{"filter": "datum.p == 'RH'"}],
      "mark": {"type": "line", "stroke": "#000", "strokeWidth": 4, "point": {"filled": true, "fill": "#fff", "stroke": "#000", "strokeWidth": 1.5, "size": 32}},
      "encoding": {"x": {"field": "c", "type": "ordinal", "axis": {"orient": "bottom", "title": null, "values": ["20H1"], "labelExpr": "'FY'", "labelOffset": -38, "ticks": false, "tickSize": 0, "domain": false, "labelPadding": 19, "labelAngle": 0}}, "y": {"field": "ni", "type": "quantitative", "scale": {"domain": [-1, 1], "nice": false, "zero": false}, "axis": null}}}
    ],
    "resolve": {"scale": {"y": "independent"}, "axis": {"x": "independent"}}
   }
   ],
   "spacing": 8
  }
 ],
 "spacing": 11},
 {"hconcat": [
  {
   "width": 309, "height": 333,
   "title": {"text": "Shinkin banks", "dx": 10},
   "layer": [
    {"data": {"name": "d"},
     "transform": [{"filter": "datum.p == 'SK'"}, {"fold": ["ppnr","credit","bond","stock","tax","others"], "as": ["k","v"]}, {"filter": "isValid(datum.v) && datum.v != 0"}, {"stack": "v", "groupby": ["c"], "as": ["v0","v1"]}],
     "mark": {"type": "bar", "width": {"band": 0.57}, "stroke": "#000", "strokeWidth": 1, "fill": {"expr": "datum.k == 'stock' ? gS : datum.k == 'tax' ? gT : datum.k == 'others' ? gO : datum.k == 'bond' ? '#0070c0' : datum.k == 'credit' ? '#ffffff' : '#93cddd'"}},
     "encoding": {
      "x": {"field": "c", "type": "ordinal", "scale": {"paddingInner": 0, "paddingOuter": 0}, "axis": {"orient": "bottom", "title": null, "values": ["06","08","10","12","14","16","18","20"], "tickBand": "extent", "labelAngle": 0, "labelPadding": 13}},
      "y": {"field": "v0", "type": "quantitative", "scale": {"domain": [-0.8, 0.8], "nice": false, "zero": false}, "axis": {"orient": "left", "values": [-0.8,-0.6,-0.4,-0.2,0,0.2,0.4,0.6,0.8], "format": ".1f", "labelExpr": "replace(datum.label, '\u2212', '-')", "title": "tril. yen", "titleAngle": 0, "titleAlign": "left", "titleBaseline": "alphabetic", "titleX": 2, "titleY": -4, "labelPadding": 7}},
      "y2": {"field": "v1"}
     }},
    {"data": {"name": "d"},
     "transform": [{"filter": "datum.p == 'SK'"}, {"fold": ["ppnr","credit","bond","stock","tax","others"], "as": ["k","v"]}, {"filter": "isValid(datum.v) && datum.v != 0"}, {"stack": "v", "groupby": ["c"], "as": ["v0","v1"]}, {"filter": "datum.k == 'others'"}],
     "mark": {"type": "bar", "width": {"band": 0.57}, "strokeWidth": 0, "fill": {"expr": "gH"}},
     "encoding": {
      "x": {"field": "c", "type": "ordinal", "axis": null},
      "y": {"field": "v0", "type": "quantitative", "scale": {"domain": [-0.8, 0.8], "nice": false, "zero": false}, "axis": null},
      "y2": {"field": "v1"}
     }},
    {"data": {"values": [{}]}, "mark": {"type": "rule", "stroke": "#000", "strokeWidth": 1.2},
     "encoding": {"y": {"datum": 0, "type": "quantitative", "scale": {"domain": [-0.8, 0.8], "nice": false, "zero": false}, "axis": null}}},
    {"data": {"name": "d"}, "transform": [{"filter": "datum.p == 'SK'"}],
     "mark": {"type": "line", "stroke": "#00b050", "strokeWidth": 4.5},
     "encoding": {"x": {"field": "c", "type": "ordinal", "axis": null}, "y": {"field": "nii", "type": "quantitative", "scale": {"domain": [0, 2.5], "nice": false, "zero": false}, "axis": {"orient": "right", "values": [0,0.5,1,1.5,2,2.5], "format": ".1f", "title": "tril. yen", "titleAngle": 0, "titleAlign": "right", "titleBaseline": "alphabetic", "titleX": 2, "titleY": -4, "labelPadding": 10}}}},
    {"data": {"name": "d"}, "transform": [{"filter": "datum.p == 'SK'"}],
     "mark": {"type": "line", "stroke": "#000", "strokeWidth": 4, "point": {"filled": true, "fill": "#fff", "stroke": "#000", "strokeWidth": 1.5, "size": 32}},
     "encoding": {"x": {"field": "c", "type": "ordinal", "axis": {"orient": "bottom", "title": null, "values": ["06"], "labelExpr": "'FY'", "labelOffset": -30, "ticks": false, "tickSize": 0, "domain": false, "labelPadding": 19, "labelAngle": 0}}, "y": {"field": "ni", "type": "quantitative", "scale": {"domain": [-0.8, 0.8], "nice": false, "zero": false}, "axis": null}}}
   ],
   "resolve": {"scale": {"y": "independent"}, "axis": {"x": "independent"}}
  },
  {
   "width": 760, "height": 333,
   "layer": [
    {"data": {"name": "leg"}, "transform": [{"filter": "datum.k != 'ni' && datum.k != 'nii'"}],
     "mark": {"type": "bar", "stroke": "#000", "strokeWidth": 1.5, "fill": {"expr": "datum.k == 'stock' ? gSL : datum.k == 'tax' ? gTL : datum.k == 'others' ? gOL : datum.k == 'bond' ? '#0070c0' : datum.k == 'credit' ? '#ffffff' : '#93cddd'"}},
     "encoding": {
      "x": {"datum": 0, "type": "quantitative", "scale": {"domain": [0, 760], "nice": false, "zero": false}, "axis": null},
      "x2": {"datum": 53},
      "y": {"field": "t", "type": "nominal", "scale": {"type": "band", "domain": ["Others (lhs)","Tax-related expenses (lhs)","Realized gains/losses on stockholdings (lhs)","Realized gains/losses on bondholdings (lhs)","Credit costs (lhs)","Pre-provision net revenue (excluding trading income, lhs)","Net income (lhs)","Net interest income (rhs)"], "range": [-13.5, 186.5], "paddingInner": 0.6, "paddingOuter": 0.3}, "axis": null}
     }},
    {"data": {"name": "leg"}, "transform": [{"filter": "datum.k == 'others'"}],
     "mark": {"type": "bar", "strokeWidth": 0, "fill": {"expr": "gH"}},
     "encoding": {
      "x": {"datum": 0, "type": "quantitative", "scale": {"domain": [0, 760], "nice": false, "zero": false}, "axis": null},
      "x2": {"datum": 53},
      "y": {"field": "t", "type": "nominal", "scale": {"type": "band", "domain": ["Others (lhs)","Tax-related expenses (lhs)","Realized gains/losses on stockholdings (lhs)","Realized gains/losses on bondholdings (lhs)","Credit costs (lhs)","Pre-provision net revenue (excluding trading income, lhs)","Net income (lhs)","Net interest income (rhs)"], "range": [-13.5, 186.5], "paddingInner": 0.6, "paddingOuter": 0.3}, "axis": null}
     }},
    {"data": {"name": "leg"}, "transform": [{"filter": "datum.k == 'ni' || datum.k == 'nii'"}],
     "mark": {"type": "rule", "strokeWidth": 4.5, "stroke": {"expr": "datum.k == 'ni' ? '#000' : '#00b050'"}},
     "encoding": {
      "x": {"datum": -2, "type": "quantitative", "scale": {"domain": [0, 760], "nice": false, "zero": false}, "axis": null},
      "x2": {"datum": 56},
      "y": {"field": "t", "type": "nominal", "scale": {"type": "band", "domain": ["Others (lhs)","Tax-related expenses (lhs)","Realized gains/losses on stockholdings (lhs)","Realized gains/losses on bondholdings (lhs)","Credit costs (lhs)","Pre-provision net revenue (excluding trading income, lhs)","Net income (lhs)","Net interest income (rhs)"], "range": [-13.5, 186.5], "paddingInner": 0.6, "paddingOuter": 0.3}, "axis": null}
     }},
    {"data": {"name": "leg"}, "transform": [{"filter": "datum.k == 'ni'"}],
     "mark": {"type": "point", "filled": true, "fill": "#fff", "stroke": "#000", "strokeWidth": 1.5, "size": 32, "opacity": 1},
     "encoding": {
      "x": {"datum": 27, "type": "quantitative", "scale": {"domain": [0, 760], "nice": false, "zero": false}, "axis": null},
      "y": {"field": "t", "type": "nominal", "scale": {"type": "band", "domain": ["Others (lhs)","Tax-related expenses (lhs)","Realized gains/losses on stockholdings (lhs)","Realized gains/losses on bondholdings (lhs)","Credit costs (lhs)","Pre-provision net revenue (excluding trading income, lhs)","Net income (lhs)","Net interest income (rhs)"], "range": [-13.5, 186.5], "paddingInner": 0.6, "paddingOuter": 0.3}, "axis": null}
     }},
    {"data": {"name": "leg"},
     "mark": {"type": "text", "align": "left", "baseline": "middle", "font": "Liberation Sans", "fontSize": 21, "color": "#000"},
     "encoding": {
      "x": {"datum": 62, "type": "quantitative", "scale": {"domain": [0, 760], "nice": false, "zero": false}, "axis": null},
      "y": {"field": "t", "type": "nominal", "scale": {"type": "band", "domain": ["Others (lhs)","Tax-related expenses (lhs)","Realized gains/losses on stockholdings (lhs)","Realized gains/losses on bondholdings (lhs)","Credit costs (lhs)","Pre-provision net revenue (excluding trading income, lhs)","Net income (lhs)","Net interest income (rhs)"], "range": [-13.5, 186.5], "paddingInner": 0.6, "paddingOuter": 0.3}, "axis": null},
      "text": {"field": "t"}
     }},
    {"data": {"name": "notes"}, "transform": [{"filter": "datum.col == 'a'"}],
     "mark": {"type": "text", "align": "left", "baseline": "middle", "font": "Liberation Sans", "fontSize": 21, "color": "#000"},
     "encoding": {
      "x": {"datum": 1, "type": "quantitative", "scale": {"domain": [0, 760], "nice": false, "zero": false}, "axis": null},
      "y": {"field": "ln", "type": "ordinal", "scale": {"type": "point", "domain": [1,2,3,4,5,6,7], "range": [227, 367], "padding": 0}, "axis": null},
      "text": {"field": "s"}
     }},
    {"data": {"name": "notes"}, "transform": [{"filter": "datum.col == 'b'"}],
     "mark": {"type": "text", "align": "left", "baseline": "middle", "font": "Liberation Sans", "fontSize": 21, "color": "#000"},
     "encoding": {
      "x": {"datum": 56, "type": "quantitative", "scale": {"domain": [0, 760], "nice": false, "zero": false}, "axis": null},
      "y": {"field": "ln", "type": "ordinal", "scale": {"type": "point", "domain": [1,2,3,4,5,6,7], "range": [227, 367], "padding": 0}, "axis": null},
      "text": {"field": "s"}
     }},
    {"data": {"name": "notes"}, "transform": [{"filter": "datum.col == 'c'"}],
     "mark": {"type": "text", "align": "left", "baseline": "middle", "font": "Liberation Sans", "fontSize": 21, "color": "#000"},
     "encoding": {
      "x": {"datum": 81, "type": "quantitative", "scale": {"domain": [0, 760], "nice": false, "zero": false}, "axis": null},
      "y": {"field": "ln", "type": "ordinal", "scale": {"type": "point", "domain": [1,2,3,4,5,6,7], "range": [227, 367], "padding": 0}, "axis": null},
      "text": {"field": "s"}
     }}
   ],
   "resolve": {"scale": {"x": "independent", "y": "independent"}}
  }
 ],
 "spacing": 35}
],
"spacing": 22,
"config": {
 "view": {"stroke": null},
 "font": "Liberation Sans",
 "axis": {"domainColor": "#000", "domainWidth": 1.5, "tickColor": "#000", "tickWidth": 1.5, "tickSize": 6, "labelColor": "#000", "labelFont": "Liberation Sans", "labelFontSize": 20, "grid": false, "titleFont": "Liberation Sans", "titleFontSize": 20, "titleFontWeight": "normal", "titleColor": "#000", "labelOverlap": false},
 "title": {"font": "Liberation Sans", "fontSize": 23, "fontWeight": "normal", "color": "#000", "baseline": "alphabetic", "offset": 23}
}
}
